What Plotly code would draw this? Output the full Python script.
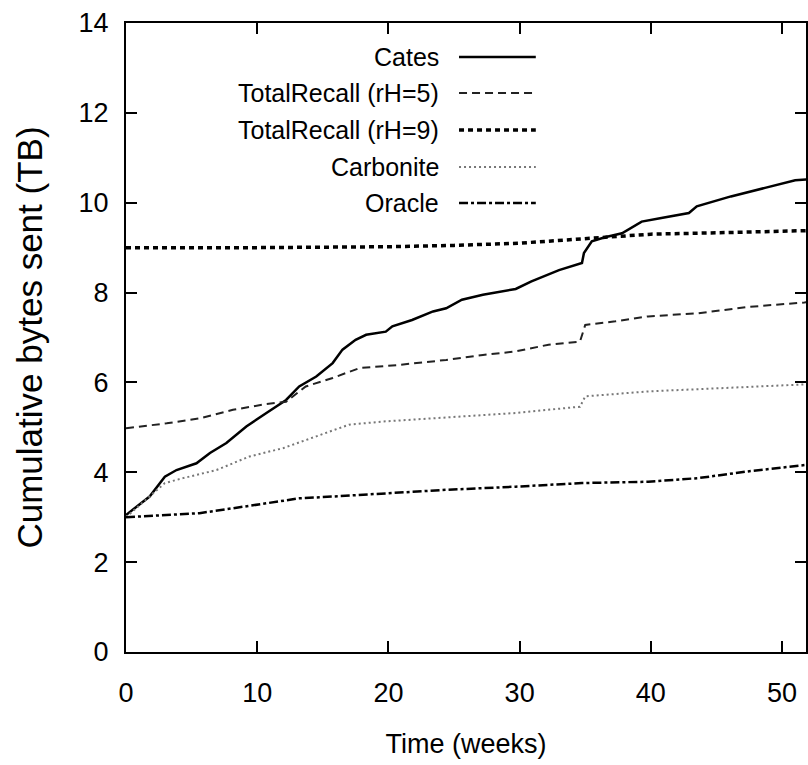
import plotly.graph_objects as go

# ---- data ----
cates_w = [0, 1.8, 2.96, 3.85, 5.37, 6.4, 7.65, 9.17, 10.7, 12.2, 13.2, 14.5, 15.75, 16.5, 17.5, 18.3,
           19.8, 20.3, 21.8, 23.4, 24.4, 25.6, 27.2, 29.7, 30.9, 33.0, 34.75, 34.9, 35.5, 36.5, 37.8,
           39.3, 40.8, 42.9, 43.5, 46.1, 48.7, 51.0, 52.0]
cates_v = [3.05, 3.46, 3.9, 4.05, 4.2, 4.43, 4.65, 5.02, 5.32, 5.61, 5.91, 6.13, 6.43, 6.73, 6.95, 7.06,
           7.13, 7.25, 7.39, 7.58, 7.65, 7.84, 7.95, 8.08, 8.25, 8.5, 8.66, 8.88, 9.14, 9.23, 9.32,
           9.58, 9.66, 9.77, 9.92, 10.14, 10.33, 10.5, 10.52]

tr5_w = [0, 3.1, 5.6, 8.15, 10.7, 12.2, 13.7, 15.75, 17.8, 20.8, 24.4, 27.2, 29.7, 32.2, 34.6, 35.0,
         37.3, 39.8, 43.6, 47.4, 51.7, 52.0]
tr5_v = [4.98, 5.09, 5.2, 5.39, 5.52, 5.57, 5.91, 6.1, 6.32, 6.39, 6.5, 6.61, 6.69, 6.84, 6.91, 7.28,
         7.36, 7.47, 7.54, 7.68, 7.78, 7.79]

tr9_w = [0, 10, 20, 25, 30, 35, 40, 45, 50, 52]
tr9_v = [9.0, 9.0, 9.02, 9.05, 9.1, 9.2, 9.3, 9.33, 9.37, 9.38]

carb_w = [0, 2.96, 4.35, 6.9, 9.4, 12.0, 14.5, 17.0, 19.6, 24.4, 29.7, 34.6, 35.0, 39.8, 44.9, 51.7, 52.0]
carb_v = [3.0, 3.76, 3.87, 4.05, 4.35, 4.54, 4.8, 5.06, 5.13, 5.22, 5.32, 5.46, 5.69, 5.8, 5.87, 5.95, 5.96]

orac_w = [0, 5.6, 10.7, 13.2, 15.75, 19.6, 24.4, 29.7, 34.75, 39.8, 43.6, 47.4, 51.7, 52.0]
orac_v = [3.0, 3.09, 3.31, 3.42, 3.46, 3.53, 3.61, 3.68, 3.76, 3.79, 3.87, 4.02, 4.16, 4.17]

names = ["Cates", "TotalRecall (rH=5)", "TotalRecall (rH=9)", "Carbonite", "Oracle"]
x_ticks = [0, 10, 20, 30, 40, 50]
y_ticks = [0, 2, 4, 6, 8, 10, 12, 14]

# ---- styles ----
styles = [
    dict(color="#000000", width=2.5, dash="solid"),
    dict(color="#222222", width=2, dash="8px,5px"),
    dict(color="#000000", width=3.5, dash="5px,4px"),
    dict(color="#777777", width=2, dash="2px,3px"),
    dict(color="#000000", width=2.5, dash="9px,3px,3px,3px"),
]
series = [(cates_w, cates_v), (tr5_w, tr5_v), (tr9_w, tr9_v), (carb_w, carb_v), (orac_w, orac_v)]

FONT = "Liberation Sans, Arial, sans-serif"

fig = go.Figure()
for (wx, vy), nm, st in zip(series, names, styles):
    fig.add_trace(go.Scatter(x=wx, y=vy, mode="lines", name=nm, line=st, showlegend=False))

# manual gnuplot-style legend (text right-aligned, sample on the right)
L, R, T, B = 126, 808, 23, 652
def px(xp):
    return (xp - L) / (R - L)
def py(yp):
    return (B - yp) / (B - T)

row_y = [57, 93, 130, 167, 203]
for nm, st, ry in zip(names, styles, row_y):
    fig.add_annotation(x=px(442), y=py(ry), xref="paper", yref="paper", text=nm,
                       showarrow=False, xanchor="right", yanchor="middle",
                       font=dict(family=FONT, size=25, color="#000"))
    fig.add_shape(type="line", xref="paper", yref="paper", x0=px(460), x1=px(537),
                  y0=py(ry), y1=py(ry), line=st)

fig.update_layout(
    width=808, height=765,
    margin=dict(l=L, r=808 - R, t=T, b=765 - B),
    paper_bgcolor="white", plot_bgcolor="white",
    showlegend=False,
)
fig.update_xaxes(
    range=[0, (R - L) / 13.16], tickvals=x_ticks, ticks="inside", ticklen=11, tickwidth=2,
    tickcolor="#000", showline=True, linecolor="#000", linewidth=2, mirror="ticks",
    showgrid=False, zeroline=False,
    tickfont=dict(family=FONT, size=27, color="#000"), ticklabelstandoff=16,
    title=dict(text="Time (weeks)", font=dict(family=FONT, size=27, color="#000"), standoff=27),
)
fig.update_yaxes(
    range=[0, 14], tickvals=y_ticks, ticks="inside", ticklen=11, tickwidth=2,
    tickcolor="#000", showline=True, linecolor="#000", linewidth=2, mirror="ticks",
    showgrid=False, zeroline=False,
    tickfont=dict(family=FONT, size=27, color="#000"), ticklabelstandoff=10,
    title=dict(text="Cumulative bytes sent (TB)", font=dict(family=FONT, size=35, color="#000"), standoff=25),
)

fig.write_html("out.html")
